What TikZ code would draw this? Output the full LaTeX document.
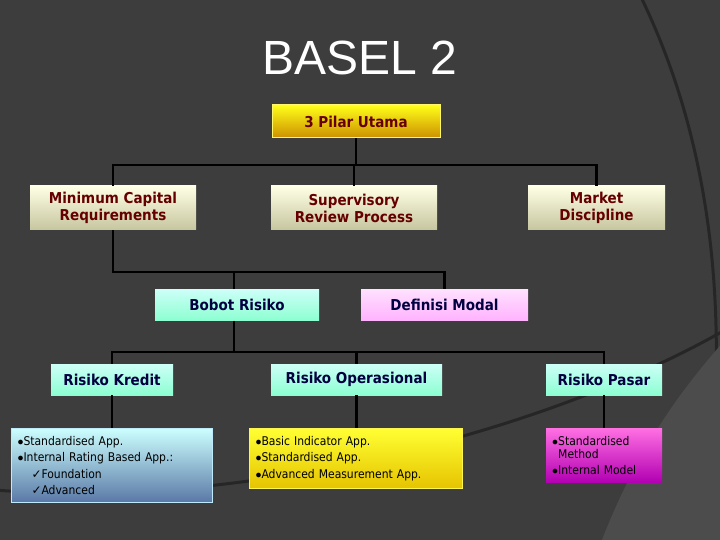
\documentclass[tikz,border=0pt]{standalone}
\usepackage{fontspec}
\setmainfont{DejaVu Sans Condensed}
\newfontfamily\titlefont{Liberation Sans}
\newfontfamily\symf{DejaVu Sans}
\begin{document}
\begin{tikzpicture}[x=1pt,y=-1pt,
 box/.style={draw=none,minimum height=#1,inner sep=0pt,align=center,font=\fontsize{15}{17}\selectfont\bfseries},
 pil/.style={box=44pt,top color=white!90!yellow,bottom color=yellow!25!gray!60,text=red!40!black,minimum width=#1},
 grn/.style={box=31pt,top color=green!15!cyan!20,bottom color=green!40!cyan!45!white,text=blue!25!black,minimum width=#1},
 lst/.style={inner sep=6pt,align=left,text=black,font=\fontsize{12}{16.5}\selectfont,anchor=north west},
 ln/.style={line width=2.4pt,black}]
\fill[black!76] (0,0) rectangle (720,540);
\useasboundingbox (0,0) rectangle (720,540);
\draw[black!85,line width=3pt] (640,-5) .. controls (740,200) and (720,420) .. (700,545);
\draw[black!85,line width=3pt] (-5,490) .. controls (250,510) and (550,430) .. (725,330);
\fill[black!70] (600,545) .. controls (640,440) and (690,380) .. (725,340) -- (725,545) -- cycle;
\node[white,font=\titlefont\fontsize{48}{48}\selectfont] (t) at (360,58) {BASEL 2};
\node[box=33pt,minimum width=168pt,top color=yellow!90!white,bottom color=orange!60!yellow!80!black,text=red!40!black,draw=yellow!60!white,line width=1pt] (p) at (356,121.5) {3 Pilar Utama};
\node[pil=166pt] (mc) at (113,208) {Minimum Capital\\Requirements};
\node[pil=166pt] (sr) at (354,208) {Supervisory\\Review Process};
\node[pil=137pt] (md) at (596.5,208) {Market\\Discipline};
\node[grn=164pt] (br) at (237,305) {Bobot Risiko};
\node[box=31pt,minimum width=167pt,top color=magenta!12,bottom color=magenta!30!white,text=blue!25!black] (dm) at (444.5,305) {Definisi Modal};
\node[grn=122pt] (rk) at (112,379.5) {Risiko Kredit};
\node[grn=171pt] (ro) at (356.5,379.5) {Risiko Operasional};
\node[grn=116pt] (rp) at (604,379.5) {Risiko Pasar};
\node[lst,text width=189pt,minimum height=74pt,top color=cyan!20!white,bottom color=cyan!40!blue!30!gray,draw=cyan!25!white,line width=1pt] (lk) at (11,428) {$\bullet$Standardised App.\\$\bullet$Internal Rating Based App.:\\\hspace*{14pt}{\symf\char"2713}Foundation\\\hspace*{14pt}{\symf\char"2713}Advanced};
\node[lst,text width=201pt,minimum height=60pt,top color=yellow!80!white,bottom color=yellow!70!orange!90!black,draw=yellow!70!white,line width=1pt] (lo) at (249,428) {$\bullet$Basic Indicator App.\\$\bullet$Standardised App.\\$\bullet$Advanced Measurement App.};
\node[lst,text width=104pt,minimum height=54pt,top color=magenta!50!pink!90!white,bottom color=magenta!70!black,inner sep=6pt,font=\fontsize{12}{13}\selectfont] (lp) at (546,428) {$\bullet$Standardised\\\hspace*{6pt}Method\\[3pt]$\bullet$Internal Model};
\coordinate (h1) at (356,165);
\draw[ln] (p.south) -- (h1);
\draw[ln] (mc.north) |- (h1) -| (md.north);
\draw[ln] (sr.north) -- (sr.north|-h1);
\coordinate (h2) at (234,272);
\draw[ln] (mc.south) |- (dm.north|-h2) -- (dm.north);
\draw[ln] (br.north-|h2) -- (h2);
\coordinate (h3) at (234,352);
\draw[ln] (br.south-|h3) -- (h3);
\draw[ln] (rk.north) |- (h3) -| (rp.north);
\draw[ln] (ro.north) -- (ro.north|-h3);
\draw[ln] (rk.south) -- (rk.south|-lk.north);
\draw[ln] (ro.south) -- (ro.south|-lo.north);
\draw[ln] (rp.south) -- (rp.south|-lp.north);
\end{tikzpicture}
\end{document}
